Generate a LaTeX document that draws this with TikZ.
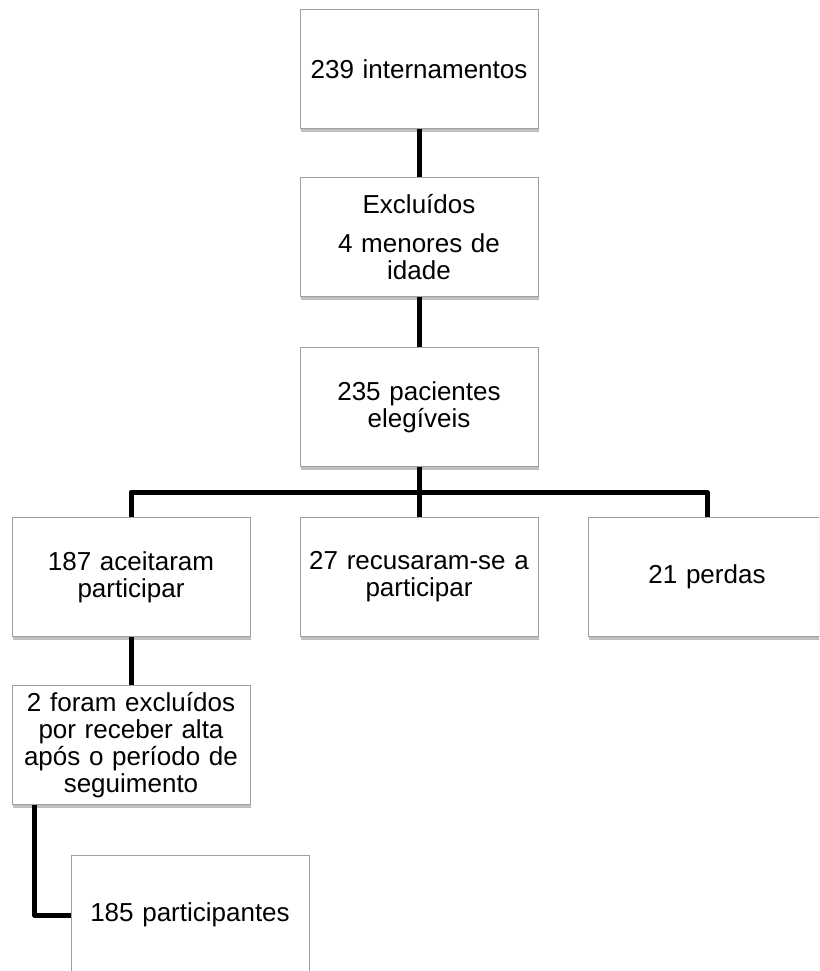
\documentclass[tikz,border=0pt]{standalone}
\usepackage{fontspec}
\setmainfont{Liberation Sans}
\usetikzlibrary{shadows}
\begin{document}
\begin{tikzpicture}[x=1pt,y=-1pt,
  etapa/.style={draw=gray!75,fill=white,line width=0.8pt,
    minimum width=238pt,minimum height=119pt,text width=230pt,
    align=center,inner sep=0pt,
    font=\fontsize{26}{27}\selectfont,
    drop shadow={shadow xshift=1pt,shadow yshift=-3pt,fill=black,opacity=0.25}},
  ligacao/.style={line width=5pt,line join=round}]
\clip (0,0) rectangle (819,971);
\fill[white] (0,0) rectangle (819,971);

\node[etapa] (intern) at (419,69) {239 internamentos};
\node[etapa] (excl) at (419,237) {Exclu\'{\i}dos\\[12pt]4 menores de\\idade};
\node[etapa] (eleg) at (419,407) {235 pacientes\\eleg\'{\i}veis};
\node[etapa] (aceit) at (131,577) {187 aceitaram\\participar};
\node[etapa] (recus) at (419,577) {27 recusaram-se a\\participar};
\node[etapa] (perdas) at (707,577) {21 perdas};
\node[etapa] (altas) at (131,745) {2 foram exclu\'{\i}dos\\por receber alta\\ap\'os o per\'{\i}odo de\\seguimento};
\node[etapa] (partic) at (190,915) {185 participantes};

\coordinate (ramo) at (419,492);
\draw[ligacao] (intern) -- (excl)
               (excl) -- (eleg)
               (eleg) -- (recus)
               (aceit.north) |- (ramo) -| (perdas.north)
               (aceit) -- (altas)
               ([xshift=23pt]altas.south west) |- (partic.west);
\end{tikzpicture}
\end{document}
